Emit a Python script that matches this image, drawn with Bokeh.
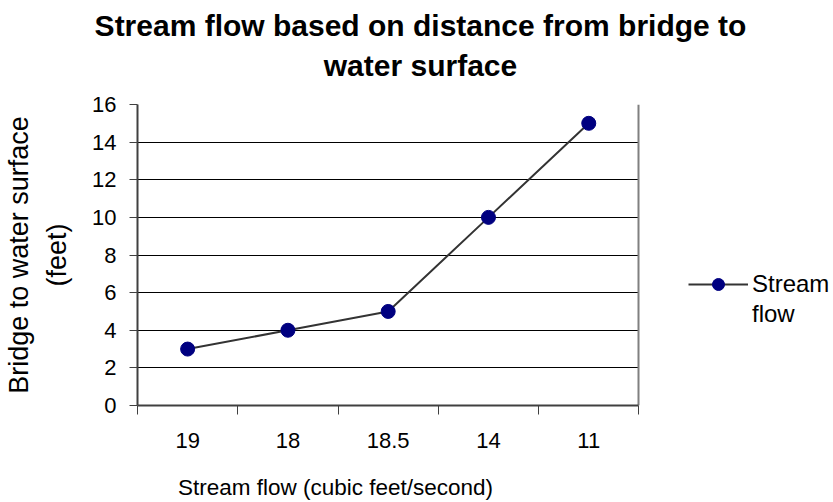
from bokeh.plotting import figure
from bokeh.models import Range1d, FixedTicker, Legend, LegendItem, Label, Grid
from bokeh.embed import file_html
from bokeh.resources import INLINE

# ---- data ----
categories = ["19", "18", "18.5", "14", "11"]
distance_ft = [3, 4, 5, 10, 15]
y_ticks = [0, 2, 4, 6, 8, 10, 12, 14, 16]

title_text = "Stream flow based on distance from bridge to\nwater surface"
x_label = "Stream flow (cubic feet/second)"
y_label = "Bridge to water surface\n(feet)"
series_lines = ["Stream", "flow"]

FONT = "Liberation Sans"
W, H = 833, 502
FL, FT, FB = 132, 104, 405
PLOT_W = 505                      # width of the boxed plot area in px
n = len(categories)
ymax = y_ticks[-1]

x_pos = [i + 0.5 for i in range(n)]
# frame runs to the right edge so the legend can sit inside it; the boxed
# area covers categories 0..n
x_end = n * (W - FL) / PLOT_W

p = figure(width=W, height=H, output_backend="svg", toolbar_location=None,
           title=None,
           x_range=Range1d(0, x_end), y_range=Range1d(0, ymax),
           min_border_left=FL, min_border_right=0,
           min_border_top=FT, min_border_bottom=H - FB)
p.background_fill_color = "white"
p.border_fill_color = "white"
p.outline_line_color = None

# x axis
xa = p.xaxis[0]
xa.bounds = (0, n)
xa.ticker = FixedTicker(ticks=x_pos, minor_ticks=list(range(n + 1)))
xa.major_label_overrides = {x: c for x, c in zip(x_pos, categories)}
xa.major_tick_out = 0
xa.major_tick_in = 0
xa.minor_tick_out = 9
xa.minor_tick_in = 0
xa.minor_tick_line_color = "#404040"
xa.minor_tick_line_width = 1
xa.axis_line_color = "#404040"
xa.axis_line_width = 2
xa.major_label_text_font = FONT
xa.major_label_text_font_size = "22px"
xa.major_label_text_color = "black"
xa.major_label_standoff = 18

# y axis
ya = p.yaxis[0]
ya.ticker = FixedTicker(ticks=y_ticks)
ya.major_tick_out = 8
ya.major_tick_in = 0
ya.major_tick_line_color = "#404040"
ya.minor_tick_line_color = None
ya.axis_line_color = "#404040"
ya.axis_line_width = 2
ya.major_label_text_font = FONT
ya.major_label_text_font_size = "22px"
ya.major_label_text_color = "black"
ya.major_label_standoff = 13
ya.axis_label = y_label
ya.axis_label_text_font = FONT
ya.axis_label_text_font_size = "27px"
ya.axis_label_text_font_style = "normal"
ya.axis_label_text_color = "black"
ya.axis_label_text_line_height = 1.27
ya.axis_label_standoff = 17

# grid lines and the grey plot-area box
p.xgrid.grid_line_color = None
p.ygrid.grid_line_color = "black"
p.ygrid.grid_line_width = 1
p.ygrid.ticker = FixedTicker(ticks=y_ticks[1:-1])
p.ygrid.cross_bounds = (0, n)
p.add_layout(Grid(dimension=1, ticker=FixedTicker(ticks=[ymax]), cross_bounds=(0, n),
                  grid_line_color="#808080", grid_line_width=2))
p.add_layout(Grid(dimension=0, ticker=FixedTicker(ticks=[n]), cross_bounds=(0, ymax),
                  grid_line_color="#808080", grid_line_width=2))

line_r = p.line(x_pos, distance_ft, line_color="#333333", line_width=2)
dot_r = p.scatter(x_pos, distance_ft, size=14, fill_color="#000080", line_color="#000080")
blank_r = p.line([], [], line_alpha=0)   # second legend row carries only text

legend = Legend(items=[LegendItem(label=series_lines[0], renderers=[line_r, dot_r]),
                       LegendItem(label=series_lines[1], renderers=[blank_r])],
                location=(551, 76), padding=0, margin=0, spacing=0,
                glyph_width=60, glyph_height=30, label_height=30, label_standoff=4,
                border_line_color=None, background_fill_alpha=0,
                label_text_font=FONT, label_text_font_size="24px",
                label_text_color="black")
p.add_layout(legend)

# chart title (top panel; y measured up from the plot top)
p.add_layout(Label(x=415 - FL, y=59, x_units="screen", y_units="screen",
                   text=title_text, text_align="center", text_baseline="middle",
                   text_line_height=1.2,
                   text_font=FONT, text_font_size="30px", text_font_style="bold",
                   text_color="black"), "above")

# x axis title (bottom panel)
p.add_layout(Label(x=330 - FL, y=-12, x_units="screen", y_units="screen",
                   text=x_label, text_align="center", text_baseline="middle",
                   text_font=FONT, text_font_size="22.5px",
                   text_color="black"), "below")

open("out.html", "w").write(file_html(p, INLINE))
